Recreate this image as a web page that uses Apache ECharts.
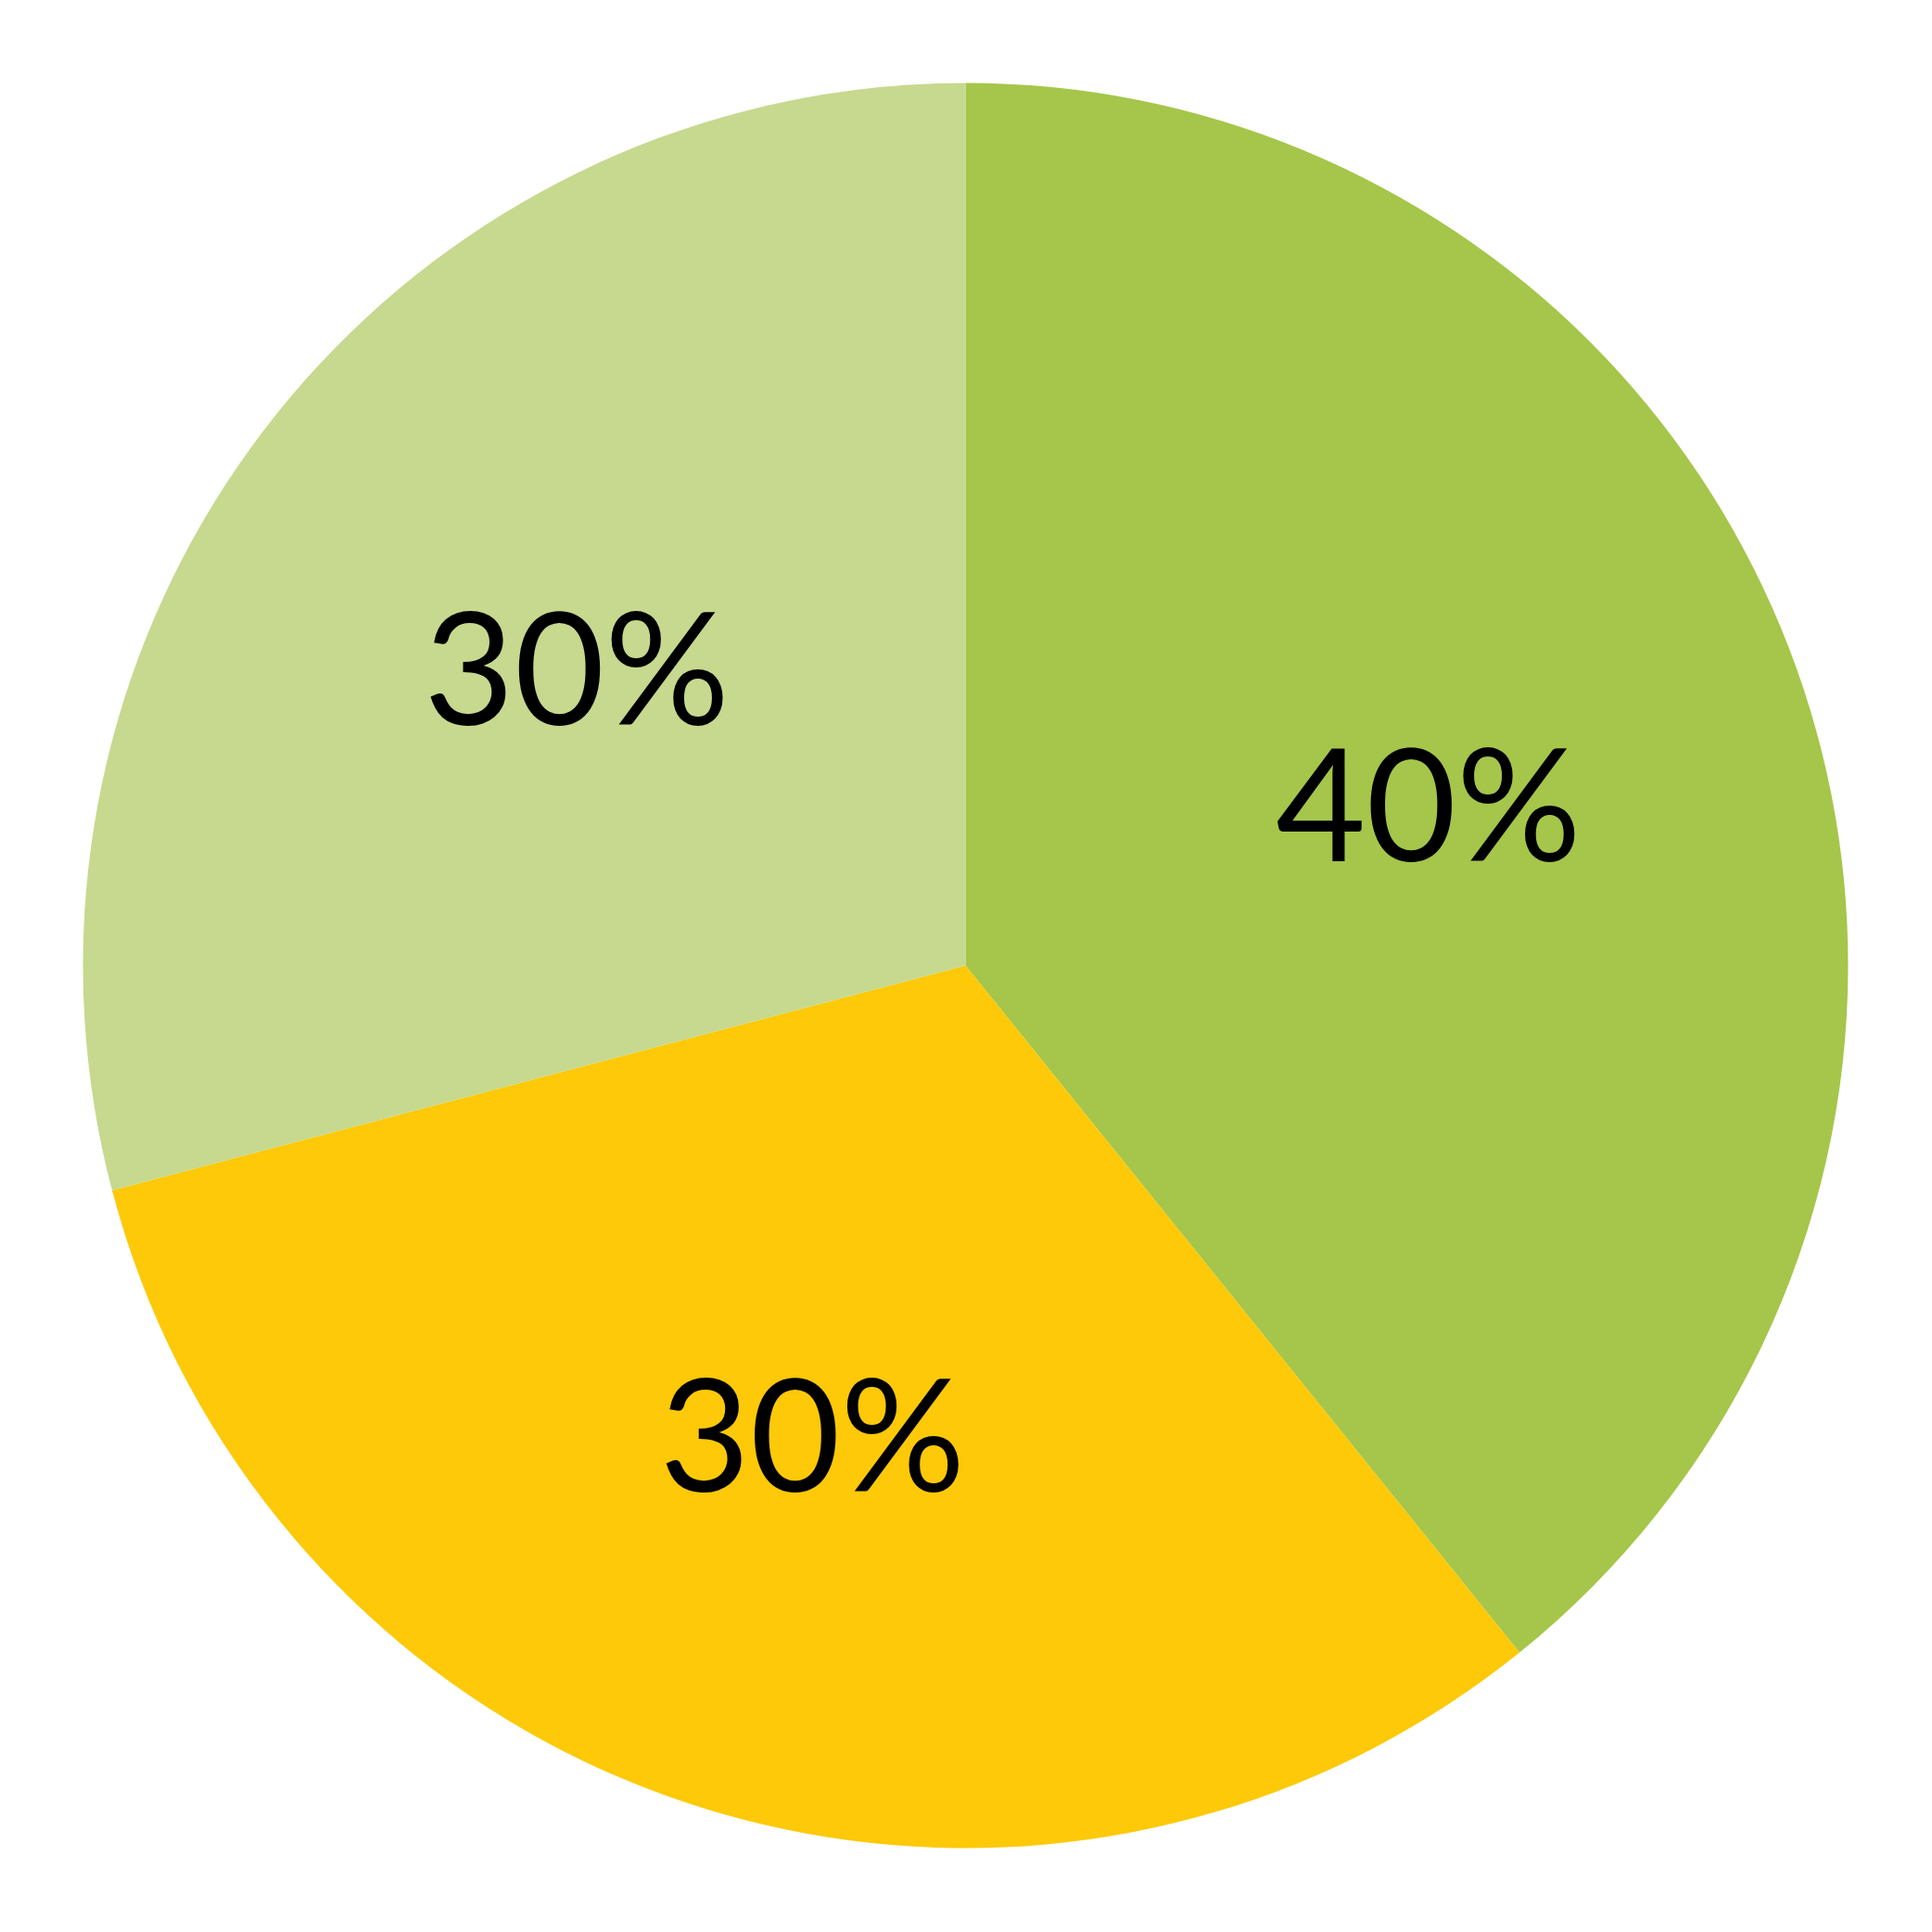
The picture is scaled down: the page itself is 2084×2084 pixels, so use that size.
<!DOCTYPE html>
<html>
<head>
<meta charset="utf-8">
<script src="https://cdn.jsdelivr.net/npm/echarts@6/dist/echarts.min.js"></script>
<style>
html,body{margin:0;padding:0;background:#ffffff;}
#chart{width:2084px;height:2084px;}
</style>
</head>
<body>
<div id="chart"></div>
<script>
// Data (slice sizes from the drawn angles, labels as printed)
var categories = ['A', 'B', 'C'];
var values = [39.2, 31.7, 29.1];
var labels = ['40%', '30%', '30%'];
var colors = ['#A5C64A', '#FDC908', '#C6D98E'];

var R = 952;
var total = values.reduce(function (a, b) { return a + b; }, 0);
var mids = [];
var acc = 0;
for (var i = 0; i < values.length; i++) {
  var mid = (acc + values[i] / 2) / total * 2 * Math.PI;
  mids.push(mid);
  acc += values[i];
}

var chart = echarts.init(document.getElementById('chart'), null, {renderer: 'canvas'});
chart.setOption({
  backgroundColor: '#ffffff',
  animation: false,
  series: [{
    type: 'pie',
    center: [1041.5, 1041.5],
    radius: [0, R],
    startAngle: 90,
    clockwise: true,
    avoidLabelOverlap: false,
    data: categories.map(function (c, i) {
      return {name: c, value: values[i], itemStyle: {color: colors[i]}};
    }),
    label: {
      show: true,
      position: 'inside',
      formatter: function (p) { return labels[p.dataIndex]; },
      color: '#000000',
      fontFamily: 'Lato',
      fontSize: 168,
      fontWeight: 'normal'
    },
    labelLayout: function (p) {
      var m = mids[p.dataIndex];
      var off = 0.053 * R;
      return {dx: off * Math.sin(m), dy: -off * Math.cos(m) + 10};
    },
    labelLine: {show: false},
    emphasis: {disabled: true}
  }]
});
</script>
</body>
</html>
